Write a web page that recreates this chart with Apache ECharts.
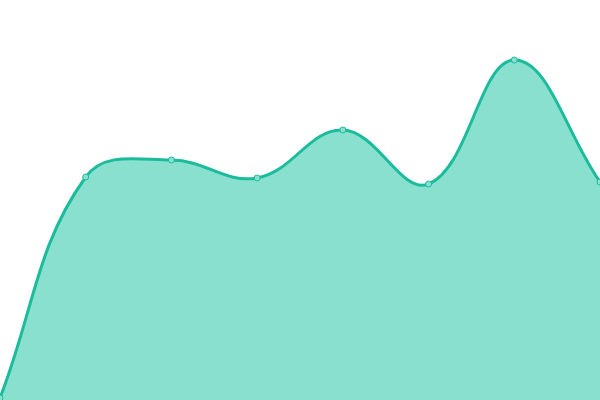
<!DOCTYPE html>
<html><head><meta charset="utf-8">
<script src="https://cdn.jsdelivr.net/npm/echarts@6/dist/echarts.min.js"></script>
<style>html,body{margin:0;padding:0;background:#fff}#c{width:600px;height:400px}</style>
</head><body><div id="c"></div>
<script>
const categories = ['1','2','3','4','5','6','7','8'];
const values = [0.5, 55.75, 60, 55.5, 67.5, 54, 85, 54.5];

const TENSION = 0.4;
const LINE_COLOR = '#1abc9c';
const FILL_COLOR = '#8ae0cf';

// spline control points (tension-based, endpoints aim at their neighbour)
function controlPoints(pts, t) {
  const n = pts.length, out = [];
  for (let i = 0; i < n; i++) {
    const prev = pts[i - 1] || pts[i], cur = pts[i], next = pts[i + 1] || pts[i];
    const d01 = Math.hypot(cur[0] - prev[0], cur[1] - prev[1]);
    const d12 = Math.hypot(next[0] - cur[0], next[1] - cur[1]);
    let s01 = d01 / (d01 + d12), s12 = d12 / (d01 + d12);
    if (isNaN(s01)) s01 = 0; if (isNaN(s12)) s12 = 0;
    const fa = t * s01, fb = t * s12;
    out.push({
      prev: [cur[0] - fa * (next[0] - prev[0]), cur[1] - fa * (next[1] - prev[1])],
      next: [cur[0] + fb * (next[0] - prev[0]), cur[1] + fb * (next[1] - prev[1])]
    });
  }
  return out;
}

const chart = echarts.init(document.getElementById('c'));
chart.setOption({
  animation: false,
  grid: {left: 0, right: 0, top: 0, bottom: 0},
  xAxis: {type: 'category', data: categories, boundaryGap: false, show: false},
  yAxis: {type: 'value', min: 0, max: 100, show: false},
  series: [{
    type: 'custom',
    coordinateSystem: 'cartesian2d',
    clip: false,
    data: values.map((v, i) => [i, v]),
    renderItem: function (params, api) {
      const i = params.dataIndex;
      const children = [];
      if (i === 0) {
        const pts = values.map((v, k) => api.coord([k, v]));
        const cps = controlPoints(pts, TENSION);
        let d = 'M' + pts[0][0] + ' ' + pts[0][1];
        for (let k = 1; k < pts.length; k++) {
          const a = cps[k - 1].next, b = cps[k].prev, p = pts[k];
          d += ' C' + a[0] + ' ' + a[1] + ' ' + b[0] + ' ' + b[1] + ' ' + p[0] + ' ' + p[1];
        }
        const base = api.coord([0, 0])[1];
        const last = pts[pts.length - 1];
        const areaD = d + ' L' + last[0] + ' ' + base + ' L' + pts[0][0] + ' ' + base + ' Z';
        children.push({type: 'path', shape: {pathData: areaD}, style: {fill: FILL_COLOR, stroke: null}});
        children.push({type: 'path', shape: {pathData: d}, style: {fill: null, stroke: LINE_COLOR, lineWidth: 3}});
      }
      const p = api.coord([i, values[i]]);
      children.push({type: 'circle', shape: {cx: p[0], cy: p[1], r: 3},
        style: {fill: FILL_COLOR, stroke: LINE_COLOR, lineWidth: 1}});
      return {type: 'group', children: children};
    }
  }]
});
</script></body></html>
